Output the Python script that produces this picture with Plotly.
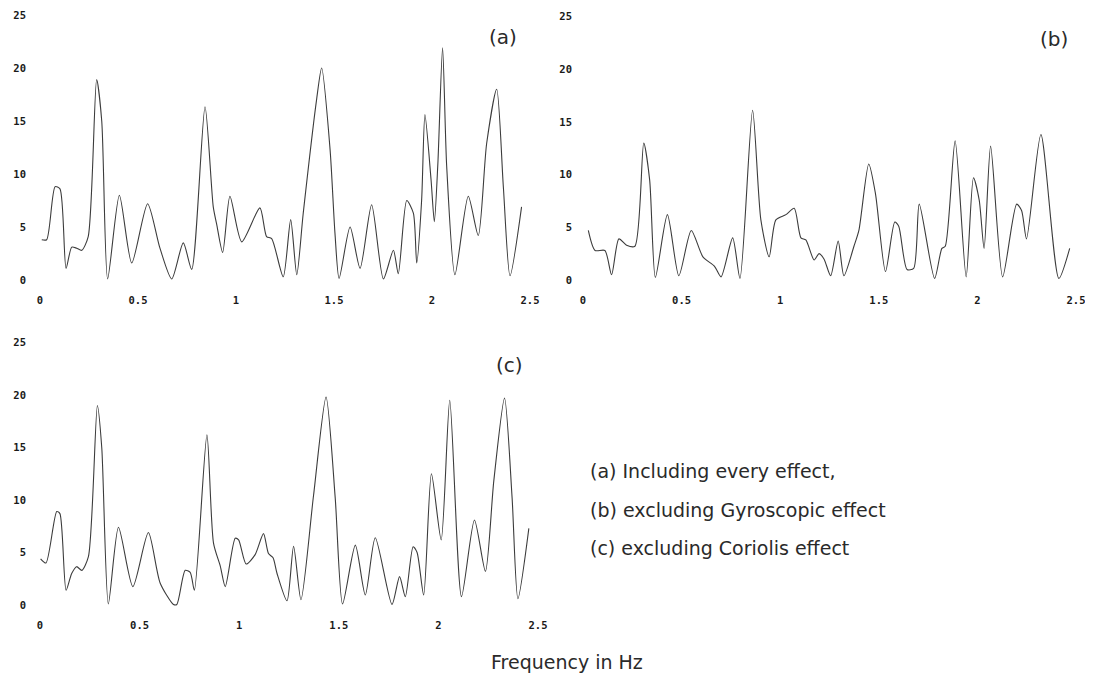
import plotly.graph_objects as go

# the page body has an 8px margin, so the figure is drawn from (8, 8) on screen
OFF = 8
W, H = 1093 - OFF, 674 - OFF

# ---------------- data ----------------
freq_a = [0.009, 0.034, 0.077, 0.102, 0.133, 0.162, 0.187, 0.213, 0.246, 0.289, 0.315, 0.345,
          0.405, 0.468, 0.549, 0.612, 0.672, 0.731, 0.774, 0.842, 0.884, 0.901, 0.932, 0.969,
          1.029, 1.122, 1.156, 1.182, 1.241, 1.279, 1.31, 1.343, 1.411, 1.437, 1.48, 1.505,
          1.526, 1.582, 1.633, 1.692, 1.752, 1.803, 1.828, 1.871, 1.905, 1.922, 1.947, 1.964,
          1.995, 2.012, 2.03, 2.054, 2.075, 2.117, 2.185, 2.236, 2.279, 2.33, 2.364, 2.398, 2.457]
amp_a = [3.8, 3.8, 8.8, 8.6, 1.1, 3.1, 3.0, 2.8, 4.1, 18.9, 15.0, 0.1,
         8.0, 1.6, 7.2, 3.0, 0.1, 3.5, 1.0, 16.35, 6.9, 5.3, 2.6, 7.9,
         3.6, 6.8, 4.1, 3.9, 0.3, 5.7, 0.5, 6.3, 17.0, 20.0, 12.3, 4.4,
         0.15, 5.0, 1.1, 7.1, 0.1, 2.8, 0.6, 7.5, 6.3, 1.6, 7.5, 15.6,
         9.5, 5.5, 11.0, 21.9, 10.7, 0.5, 7.9, 4.2, 12.9, 18.0, 8.8, 0.4, 6.9]

freq_b = [0.027, 0.061, 0.111, 0.145, 0.182, 0.221, 0.263, 0.308, 0.338, 0.367, 0.428, 0.486,
          0.549, 0.608, 0.667, 0.70, 0.759, 0.796, 0.86, 0.902, 0.944, 0.978, 1.029, 1.071,
          1.105, 1.13, 1.172, 1.197, 1.222, 1.256, 1.294, 1.323, 1.374, 1.399, 1.449, 1.483,
          1.534, 1.581, 1.601, 1.643, 1.677, 1.705, 1.783, 1.82, 1.837, 1.887, 1.943, 1.98,
          2.009, 2.034, 2.067, 2.128, 2.199, 2.224, 2.249, 2.322, 2.413, 2.468]
amp_b = [4.7, 2.8, 2.8, 0.5, 3.9, 3.3, 3.2, 13.0, 9.5, 0.25, 6.2, 0.4,
         4.7, 2.2, 1.3, 0.3, 4.0, 0.15, 16.1, 5.7, 2.2, 5.7, 6.2, 6.8,
         4.0, 3.8, 1.9, 2.5, 2.0, 0.4, 3.7, 0.4, 3.2, 4.7, 11.0, 8.2,
         0.8, 5.5, 5.1, 1.0, 1.1, 7.2, 0.15, 3.0, 3.2, 13.2, 0.3, 9.7,
         7.6, 3.0, 12.7, 0.3, 7.2, 6.6, 3.9, 13.8, 0.15, 3.0]

freq_c = [0.003, 0.03, 0.084, 0.1, 0.131, 0.159, 0.184, 0.21, 0.243, 0.288, 0.31, 0.343,
          0.394, 0.466, 0.544, 0.603, 0.67, 0.687, 0.729, 0.754, 0.775, 0.838, 0.871, 0.905,
          0.93, 0.98, 0.997, 1.035, 1.08, 1.122, 1.147, 1.17, 1.19, 1.24, 1.273, 1.31,
          1.373, 1.436, 1.482, 1.519, 1.583, 1.633, 1.683, 1.767, 1.805, 1.834, 1.873, 1.893,
          1.926, 1.965, 2.014, 2.057, 2.116, 2.181, 2.236, 2.278, 2.332, 2.37, 2.399, 2.454]
amp_c = [4.4, 4.0, 8.9, 8.7, 1.4, 3.0, 3.65, 3.3, 4.6, 19.0, 15.0, 0.1,
         7.4, 1.75, 6.9, 2.1, 0.05, 0.05, 3.3, 3.1, 1.4, 16.2, 5.9, 3.7,
         1.75, 6.35, 6.2, 3.9, 4.8, 6.8, 4.9, 4.5, 3.0, 0.4, 5.6, 0.5,
         10.4, 19.8, 10.2, 0.1, 5.7, 0.95, 6.4, 0.05, 2.7, 0.8, 5.55, 5.0,
         0.95, 12.5, 6.2, 19.5, 0.8, 8.1, 3.2, 11.8, 19.7, 10.2, 0.6, 7.3]

y_ticks = [0, 5, 10, 15, 20, 25]
x_ticks = [0, 0.5, 1, 1.5, 2, 2.5]
x_tick_text = ["0", "0.5", "1", "1.5", "2", "2.5"]
panel_labels = ["(a)", "(b)", "(c)"]
legend_lines = ["(a) Including every effect,",
                "(b) excluding Gyroscopic effect",
                "(c) excluding Coriolis effect"]
x_title = "Frequency in Hz"

# ---------------- layout helpers (screen-pixel geometry) ----------------
YPAD = 0.35  # small range padding so the zero-level line is not clipped


def px_x(p):
    return (p - OFF) / W


def px_y(p):
    return 1 - (p - OFF) / H


def domains(x0px, x25px, y0px, y25px):
    pu = (y0px - y25px) / 25.0
    ybot = y0px + YPAD * pu
    ytop = y25px - YPAD * pu
    return [px_x(x0px), px_x(x25px)], [px_y(ybot), px_y(ytop)]


panels = [
    ("x", "y", (40, 530, 280, 15), freq_a, amp_a),
    ("x2", "y2", (583, 1076, 280, 16.5), freq_b, amp_b),
    ("x3", "y3", (40, 538, 605, 342.5), freq_c, amp_c),
]

fig = go.Figure()
tick_font = dict(family="DejaVu Sans Mono, monospace", size=10.5, color="#1a1a1a", weight="bold")
text_family = "DejaVu Sans, Liberation Sans, sans-serif"
text_color = "#2a2a2a"

layout_axes = {}
for i, (xa, ya, geo, fx, fy) in enumerate(panels):
    fig.add_trace(go.Scatter(
        x=fx, y=fy, mode="lines", xaxis=xa, yaxis=ya,
        line=dict(color="#3c3c3c", width=1.1, shape="spline", smoothing=0.7),
        showlegend=False, hoverinfo="skip"))
    xd, yd = domains(*geo)
    xkey = "xaxis" + ("" if i == 0 else str(i + 1))
    ykey = "yaxis" + ("" if i == 0 else str(i + 1))
    layout_axes[xkey] = dict(
        domain=xd, range=[0, 2.5], anchor=ya, tickvals=x_ticks, ticktext=x_tick_text,
        showgrid=False, zeroline=False, showline=False, ticks="", tickfont=tick_font,
        ticklabelstandoff=9, fixedrange=True, automargin=False)
    layout_axes[ykey] = dict(
        domain=yd, range=[-YPAD, 25 + YPAD], anchor=xa, tickvals=y_ticks,
        showgrid=False, zeroline=False, showline=False, ticks="", tickfont=tick_font,
        ticklabelstandoff=13 if i != 1 else 10, fixedrange=True, automargin=False)

annotations = []
label_pos = [("x", "y", 2.36, 22.9), ("x2", "y2", 2.39, 22.9), ("x3", "y3", 2.357, 22.9)]
for txt, (xr, yr, ax_, ay_) in zip(panel_labels, label_pos):
    annotations.append(dict(text=txt, xref=xr, yref=yr, x=ax_, y=ay_, showarrow=False,
                            xanchor="center", yanchor="middle",
                            font=dict(family=text_family, size=20, color=text_color)))

for k, line in enumerate(legend_lines):
    ypx = [471, 510, 548][k]
    annotations.append(dict(text=line, xref="paper", yref="paper", x=px_x(588), y=px_y(ypx),
                            showarrow=False, xanchor="left", yanchor="middle",
                            font=dict(family=text_family, size=19, color=text_color)))

annotations.append(dict(text=x_title, xref="paper", yref="paper", x=px_x(567), y=px_y(662),
                        showarrow=False, xanchor="center", yanchor="middle",
                        font=dict(family=text_family, size=19, color=text_color)))

fig.update_layout(
    width=W, height=H,
    margin=dict(l=0, r=0, t=0, b=0, autoexpand=False),
    paper_bgcolor="white", plot_bgcolor="white",
    annotations=annotations,
    **layout_axes,
)

fig.write_html("out.html", config={"displayModeBar": False})
